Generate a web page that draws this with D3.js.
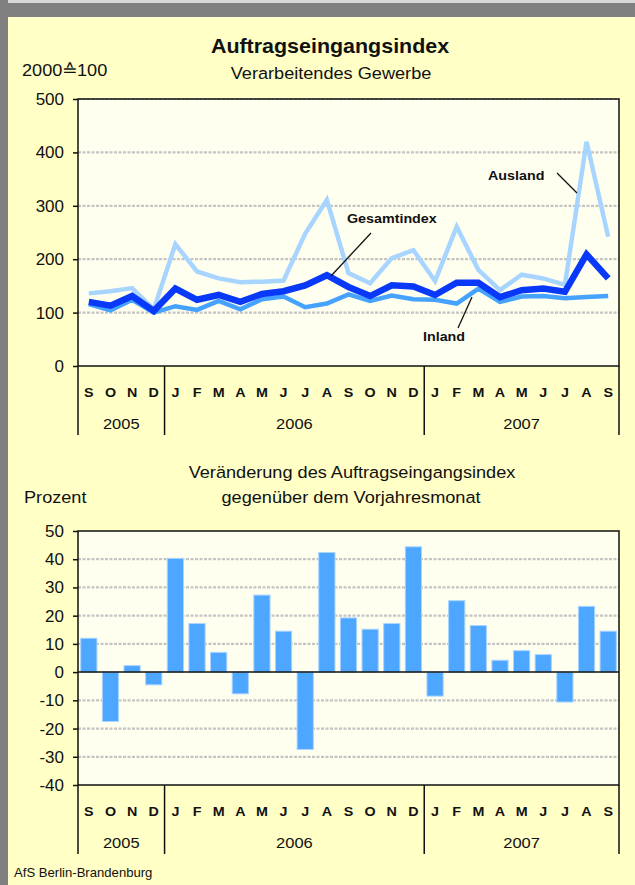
<!DOCTYPE html>
<html>
<head>
<meta charset="utf-8">
<script src="https://cdn.jsdelivr.net/npm/d3@7"></script>
<style>
  body { margin: 0; background: #fff; }
  svg text { font-family: "Liberation Sans", Arial, sans-serif; fill: #111; }
</style>
</head>
<body>
<svg id="chart" width="635" height="885"></svg>
<script>
// month letters, Sep 2005 .. Sep 2007
const MONTHS = ["S","O","N","D","J","F","M","A","M","J","J","A","S","O","N","D","J","F","M","A","M","J","J","A","S"];
const YEAR_LABELS = ["2005", "2006", "2007"];
const YEAR_MONTHS = [4, 12, 9];

// Auftragseingangsindex, 2000 = 100
const GESAMT  = [120,113,131,103,145,124,133,120,135,140,151,170,148,131,151,149,133,156,156,129,142,145,139,209,164];
const INLAND  = [116,104,124,100,112,105,122,106,125,130,110,117,134,122,132,125,124,117,145,120,130,131,127,129,131];
const AUSLAND = [136,140,146,106,228,177,164,157,158,160,248,311,174,155,202,217,159,261,180,142,171,164,152,420,242];

// Veränderung gegenüber dem Vorjahresmonat in %
const VERAENDERUNG = [12,-17.5,2.3,-4.5,40.3,17.2,7,-7.7,27.3,14.5,-27.4,42.4,19.2,15.2,17.2,44.4,-8.5,25.3,16.5,4.2,7.6,6.2,-10.6,23.3,14.5];

const TOP_TICKS = [0, 100, 200, 300, 400, 500];
const BAR_TICKS = [-40, -30, -20, -10, 0, 10, 20, 30, 40, 50];

const BG = "#ffffc6";
const PLOT_BG = "#fffff0";
const GRID = "#c4c4c4";
const SX = 1.1; // the source picture is a bit stretched horizontally

const svg = d3.select("#chart");
const PLOT_LEFT = 78, PLOT_RIGHT = 619;

main();

function main() {
  drawFrame();
  drawTopChart();
  drawBarChart();
  text(svg, 14, 877, "AfS Berlin-Brandenburg", { size: 12.5, anchor: "start", sx: 1.05 });
}

// text helper, scaled a little in x around its anchor
function text(g, x, y, str, o) {
  return g.append("text")
    .attr("transform", `translate(${x},${y}) scale(${o.sx || SX},1)`)
    .attr("text-anchor", o.anchor || "middle")
    .attr("font-size", o.size)
    .attr("font-weight", o.bold ? "bold" : "normal")
    .text(str);
}

function drawFrame() {
  svg.append("rect").attr("width", 635).attr("height", 885).attr("fill", BG);
  svg.append("rect").attr("width", 635).attr("height", 17).attr("fill", "#808080");
  svg.append("rect").attr("width", 635).attr("height", 3).attr("fill", "#d8d8d8");
  svg.append("rect").attr("width", 8).attr("height", 885).attr("fill", "#808080");
}

// gridlines, plot background and border shared by both charts
function drawPlotBox(g, y, ticks, skip) {
  const [y0, y1] = y.range();
  g.append("rect")
    .attr("x", PLOT_LEFT).attr("y", y1)
    .attr("width", PLOT_RIGHT - PLOT_LEFT).attr("height", y0 - y1)
    .attr("fill", PLOT_BG);
  g.selectAll("line.grid")
    .data(ticks.filter(t => !skip.includes(t)))
    .join("line")
    .attr("class", "grid")
    .attr("x1", PLOT_LEFT).attr("x2", PLOT_RIGHT)
    .attr("y1", d => y(d)).attr("y2", d => y(d))
    .attr("stroke", GRID).attr("stroke-width", 2.2)
    .attr("stroke-dasharray", "3 1.5");
}

function drawBorder(g, y) {
  const [y0, y1] = y.range();
  g.append("rect")
    .attr("x", PLOT_LEFT).attr("y", y1)
    .attr("width", PLOT_RIGHT - PLOT_LEFT).attr("height", y0 - y1)
    .attr("fill", "none").attr("stroke", "#111").attr("stroke-width", 1.5);
}

function drawYAxis(g, y, ticks) {
  const axis = g.append("g")
    .attr("transform", `translate(${PLOT_LEFT},0)`)
    .call(d3.axisLeft(y).tickValues(ticks).tickSize(5).tickPadding(9).tickFormat(d => String(d)));
  axis.select(".domain").remove();
  axis.selectAll("line").attr("stroke", "#111").attr("stroke-width", 1.5);
  axis.selectAll("text")
    .attr("font-size", 17)
    .attr("font-family", "'Liberation Sans', Arial, sans-serif")
    .attr("fill", "#111");
}

// month letters, year labels and the separator lines below a chart
function drawMonthTable(g, x, axisY) {
  g.selectAll("g.month")
    .data(MONTHS)
    .join("g")
    .attr("class", "month")
    .each(function (d, i) {
      text(d3.select(this), x(i) + x.bandwidth() / 2, axisY + 31, d, { size: 13, bold: true });
    });

  const bounds = [0];
  YEAR_MONTHS.forEach(n => bounds.push(bounds[bounds.length - 1] + n));
  const edge = b => (b < MONTHS.length ? x(b) : x.range()[1]);
  g.selectAll("line.sep")
    .data(bounds)
    .join("line")
    .attr("class", "sep")
    .attr("x1", edge).attr("x2", edge)
    .attr("y1", axisY).attr("y2", axisY + 69)
    .attr("stroke", "#111").attr("stroke-width", 1.5);
  YEAR_LABELS.forEach((lab, k) => {
    const cx = (edge(bounds[k]) + edge(bounds[k + 1])) / 2;
    text(g, cx, axisY + 63, lab, { size: 15 });
  });
}

function drawTopChart() {
  const g = svg.append("g");
  const x = d3.scaleBand().domain(d3.range(MONTHS.length)).range([PLOT_LEFT, PLOT_RIGHT]);
  const y = d3.scaleLinear().domain([0, 500]).range([366, 99]);

  text(g, 330, 53, "Auftragseingangsindex", { size: 19.5, bold: true });
  text(g, 331, 79, "Verarbeitendes Gewerbe", { size: 16.5 });
  text(g, 22, 76, "2000\u2259100", { size: 16.5, anchor: "start" });

  drawPlotBox(g, y, TOP_TICKS, [0]);

  const line = d3.line()
    .x((d, i) => x(i) + x.bandwidth() / 2)
    .y(d => y(d))
    .curve(d3.curveLinear);
  const series = [
    { data: AUSLAND, color: "#a8d5ff", width: 4.5 },
    { data: INLAND, color: "#45a2ff", width: 4.5 },
    { data: GESAMT, color: "#0838f8", width: 6.5 }
  ];
  g.selectAll("path.series")
    .data(series)
    .join("path")
    .attr("class", "series")
    .attr("d", d => line(d.data))
    .attr("fill", "none")
    .attr("stroke", d => d.color)
    .attr("stroke-width", d => d.width)
    .attr("stroke-linejoin", "miter");

  // labels with leader lines
  const leaders = [[557, 173, 577, 193], [371, 233, 331, 276], [458, 328, 472, 297]];
  g.selectAll("line.leader")
    .data(leaders)
    .join("line")
    .attr("class", "leader")
    .attr("x1", d => d[0]).attr("y1", d => d[1])
    .attr("x2", d => d[2]).attr("y2", d => d[3])
    .attr("stroke", "#111").attr("stroke-width", 1.3);
  text(g, 488, 180, "Ausland", { size: 13, bold: true, anchor: "start" });
  text(g, 347, 223, "Gesamtindex", { size: 13, bold: true, anchor: "start" });
  text(g, 423, 341, "Inland", { size: 13, bold: true, anchor: "start" });

  drawBorder(g, y);
  drawYAxis(g, y, TOP_TICKS);
  drawMonthTable(g, x, 366);
}

function drawBarChart() {
  const g = svg.append("g");
  const x = d3.scaleBand().domain(d3.range(MONTHS.length)).range([PLOT_LEFT, PLOT_RIGHT]);
  const xb = d3.scaleBand().domain(d3.range(MONTHS.length))
    .range([PLOT_LEFT, PLOT_RIGHT]).paddingInner(0.25).paddingOuter(0.125);
  const y = d3.scaleLinear().domain([-40, 50]).range([785, 531]);

  text(g, 352, 478, "Veränderung des Auftragseingangsindex", { size: 16.5 });
  text(g, 351, 503, "gegenüber dem Vorjahresmonat", { size: 16.5 });
  text(g, 24, 503, "Prozent", { size: 16.5, anchor: "start" });

  drawPlotBox(g, y, BAR_TICKS, [-40, 0, 50]);

  g.selectAll("rect.bar")
    .data(VERAENDERUNG)
    .join("rect")
    .attr("class", "bar")
    .attr("x", (d, i) => xb(i))
    .attr("width", xb.bandwidth())
    .attr("y", d => y(Math.max(0, d)))
    .attr("height", d => Math.abs(y(d) - y(0)))
    .attr("fill", "#4da6ff")
    .attr("stroke", "#a9d5ff").attr("stroke-width", 1);

  g.append("line")
    .attr("x1", PLOT_LEFT).attr("x2", PLOT_RIGHT)
    .attr("y1", y(0)).attr("y2", y(0))
    .attr("stroke", "#111").attr("stroke-width", 1.5);

  drawBorder(g, y);
  drawYAxis(g, y, BAR_TICKS);
  drawMonthTable(g, x, 785);
}
</script>
</body>
</html>
